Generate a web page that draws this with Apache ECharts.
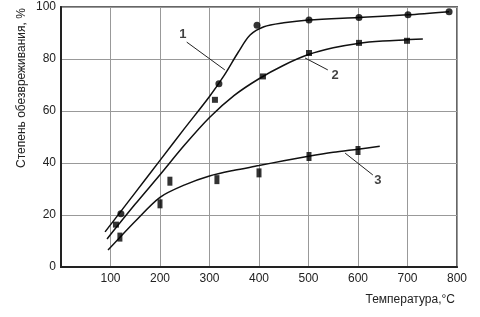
<!DOCTYPE html>
<html><head><meta charset="utf-8">
<script src="https://cdn.jsdelivr.net/npm/echarts@6/dist/echarts.min.js"></script>
<style>html,body{margin:0;padding:0;background:#fff}#c{width:480px;height:317px}</style>
</head><body><div id="c"></div>
<script>
// measured points
var pts1 = [[121,20.5],[319,70.5],[396,93],[501,95],[602,96],[701,97],[784,98.2]];
var pts2 = [[111,16.3],[311,64.3],[408,73.3],[501,82.3],[602,86.2],[699,87]];
var pts3 = [[119,11.5],[200,24.3],[220,33],[315,33.6],[400,36.2],[501,42.5],[600,44.8]];
// fitted curves
var curve1 = [[89,13.5],[150,28.6],[200,41],[250,53.4],[300,65.6],[330,73.8],[358,82.6],[382,89.2],[410,92.4],[450,93.9],[500,95],[600,96],[700,97],[784,98.2]];
var curve2 = [[93,10.8],[150,24.2],[200,35.5],[250,47],[300,57.5],[350,66],[400,72.4],[450,77.6],[500,81.7],[550,84.3],[600,86],[650,86.9],[731,87.7]];
var curve3 = [[95,6.5],[150,17.6],[200,26.8],[250,31.6],[300,35],[350,37.2],[400,39],[450,40.9],[500,42.6],[550,44.1],[600,45.3],[644,46.4]];
// annotation leaders and labels
var leader1 = [[254,86.5],[331,75.8]];
var leader2 = [[493,80.4],[539,75.8]];
var leader3 = [[574,43.8],[630,35.4]];
var labelPts = [[246,89.5,'1'],[554,73.6,'2'],[640,33.3,'3']];
var xTicks = [100,200,300,400,500,600,700,800];
var yTicks = [0,20,40,60,80,100];
var yName = 'Степень обезвреживания, %';
var xName = 'Температура,°C';

var chart = echarts.init(document.getElementById('c'));
var font = 'Liberation Sans, Arial, sans-serif';
function curveSeries(d){return {type:'line',data:d,smooth:0.3,showSymbol:false,lineStyle:{color:'#111',width:1.5},z:3,silent:true};}
function leaderSeries(d){return {type:'line',data:d,showSymbol:false,lineStyle:{color:'#222',width:1},z:3,silent:true};}
chart.setOption({
  animation:false,
  backgroundColor:'#fff',
  grid:{left:61,right:23,top:7,bottom:50,show:true,borderColor:'#666',borderWidth:2},
  xAxis:{type:'value',min:0,max:800,interval:100,
    axisLine:{show:true,lineStyle:{color:'#222',width:2}},
    axisTick:{show:false},
    splitLine:{show:true,lineStyle:{color:'#999',width:1}},
    axisLabel:{color:'#222',fontSize:12,fontFamily:font,margin:6,
      formatter:function(v){return xTicks.indexOf(v)>=0?String(v):'';}}},
  yAxis:{type:'value',min:0,max:100,interval:20,
    axisLine:{show:true,lineStyle:{color:'#222',width:2}},
    axisTick:{show:false},
    splitLine:{show:true,lineStyle:{color:'#999',width:1}},
    axisLabel:{color:'#222',fontSize:12,fontFamily:font,margin:5,
      formatter:function(v){return yTicks.indexOf(v)>=0?String(v):'';}}},
  graphic:[
    {type:'text',x:22,y:88,rotation:Math.PI/2,style:{text:yName,fill:'#222',font:'12px '+font,textAlign:'center',textVerticalAlign:'middle'}},
    {type:'text',x:455,y:300,style:{text:xName,fill:'#222',font:'12px '+font,textAlign:'right',textVerticalAlign:'middle'}}
  ],
  series:[
    curveSeries(curve1),curveSeries(curve2),curveSeries(curve3),
    leaderSeries(leader1),leaderSeries(leader2),leaderSeries(leader3),
    {type:'scatter',data:pts1,symbol:'circle',symbolSize:7,itemStyle:{color:'#000'},z:4},
    {type:'scatter',data:pts2,symbol:'rect',symbolSize:[6,6],itemStyle:{color:'#000'},z:4},
    {type:'scatter',data:pts3,symbol:'rect',symbolSize:[5,9],itemStyle:{color:'#000'},z:4},
    {type:'scatter',data:labelPts,symbolSize:0,z:5,
      label:{show:true,position:'inside',formatter:function(p){return p.data[2];},
        color:'#111',fontSize:13,fontWeight:'bold',fontFamily:font}}
  ]
});
</script></body></html>
